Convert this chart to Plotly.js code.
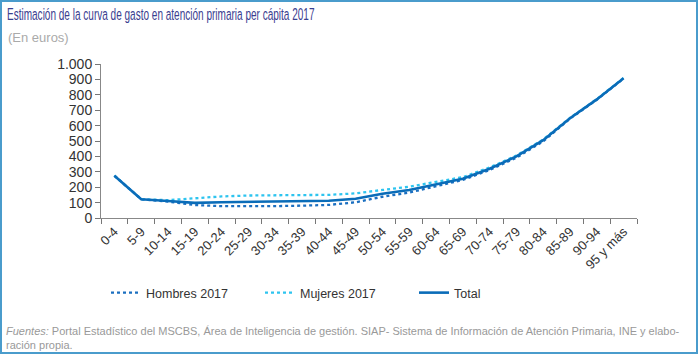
<!DOCTYPE html>
<html>
<head>
<meta charset="utf-8">
<script src="https://cdn.plot.ly/plotly-3.0.1.min.js"></script>
<style>
html,body{margin:0;padding:0;background:#fff;}
#frame{position:absolute;left:0;top:0;width:694px;height:350px;border:2px solid #4a9ccc;background:#fff;}
#chart{position:absolute;left:-2px;top:-2px;width:700px;height:354px;}
</style>
</head>
<body>
<div id="frame"><div id="chart"></div></div>
<script>
var categories = ["0-4","5-9","10-14","15-19","20-24","25-29","30-34","35-39","40-44","45-49","50-54","55-59","60-64","65-69","70-74","75-79","80-84","85-89","90-94","95 y más"];
var hombres = [275,122,106,84,77,76,77,80,85,102,138,165,207,247,312,392,498,645,768,906];
var mujeres = [275,122,116,128,140,146,149,149,150,160,182,203,235,265,328,405,510,650,772,910];
var total   = [275,122,110,98,102,104,106,108,112,125,158,182,220,255,320,400,505,648,770,908];

var L = 101, R = 637, T = 64, B = 218, W = 700, H = 354;
function px(x){ return (x - L) / (R - L); }
function py(y){ return (B - y) / (B - T); }

var traces = [
  {x: categories, y: hombres, name: "Hombres 2017", type: "scatter", mode: "lines",
   line: {color: "#1b6fc0", width: 2.3, dash: "dot"}},
  {x: categories, y: mujeres, name: "Mujeres 2017", type: "scatter", mode: "lines",
   line: {color: "#2ec4ef", width: 2.3, dash: "dot"}},
  {x: categories, y: total, name: "Total", type: "scatter", mode: "lines",
   line: {color: "#0a6cb8", width: 2.6}}
];

var font = "Liberation Sans, Arial, sans-serif";
var layout = {
  width: W, height: H,
  margin: {l: L, r: W - R, t: T, b: H - B, pad: 0},
  paper_bgcolor: "rgba(0,0,0,0)", plot_bgcolor: "rgba(0,0,0,0)",
  separators: ",.",
  font: {family: font, size: 13, color: "#333"},
  showlegend: true,
  title: {text: "Estimación de la curva de gasto en atención primaria per cápita 2017",
          x: 7 / W, xanchor: "left", xref: "container", y: 1 - 14 / H, yanchor: "middle", yref: "container",
          font: {family: font, size: 17, color: "#3a4090"}},
  xaxis: {type: "category", range: [-0.5, categories.length - 0.5], tickson: "boundaries",
          ticks: "outside", ticklen: 5, tickcolor: "#777", showline: true, linecolor: "#888", linewidth: 1,
          showgrid: false, zeroline: false, tickangle: -45,
          tickfont: {family: font, size: 13, color: "#333"}, fixedrange: true},
  yaxis: {range: [0, 1000], dtick: 100, tick0: 0, tickformat: ",d", ticks: "outside", ticklen: 5,
          tickcolor: "#777", showline: true, linecolor: "#888", linewidth: 1, showgrid: false, zeroline: false,
          tickfont: {family: font, size: 14, color: "#333"}, fixedrange: true},
  legend: {orientation: "h", x: px(106), xanchor: "left", y: py(293), yanchor: "middle",
           font: {family: font, size: 12.5, color: "#333"}, itemwidth: 30, entrywidth: 109,
           traceorder: "normal", bgcolor: "rgba(0,0,0,0)"},
  annotations: [
    {text: "(En euros)", xref: "paper", yref: "paper", x: px(6), y: py(37), xanchor: "left", yanchor: "middle",
     showarrow: false, font: {family: font, size: 13, color: "#aaa"}},
    {text: "<i>Fuentes:</i> Portal Estadístico del MSCBS, Área de Inteligencia de gestión. SIAP- Sistema de Información de Atención Primaria, INE y elabo-<br>ración propia.",
     xref: "paper", yref: "paper", x: px(4), y: py(323), xanchor: "left", yanchor: "top", align: "left",
     showarrow: false, font: {family: font, size: 11, color: "#999"}}
  ]
};

Plotly.newPlot("chart", traces, layout, {displayModeBar: false, staticPlot: true}).then(function(){
  var t = document.querySelector(".gtitle");
  if (t) {
    var x0 = parseFloat(t.getAttribute("x")) || 7;
    var w = t.getBBox().width;
    var s = Math.min(1, 308 / w);
    t.setAttribute("transform", "translate(" + x0 + ",0) scale(" + s + ",1) translate(" + (-x0) + ",0)");
  }
});
</script>
</body>
</html>
